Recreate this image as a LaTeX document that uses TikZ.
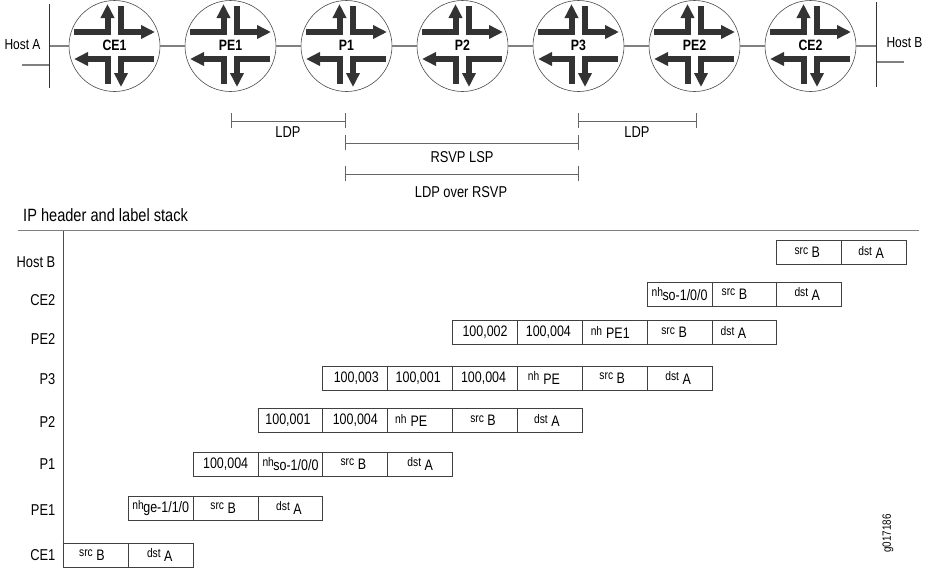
\documentclass[tikz,border=0pt]{standalone}
\usepackage{fontspec}
\setmainfont[FakeStretch=0.82]{Liberation Sans}
\usetikzlibrary{arrows.meta}
\newcommand{\sm}[1]{\raisebox{3.5pt}{\fontsize{12.5}{12}\selectfont #1}}
\newcommand{\srcB}{\sm{src}\hspace{3.5pt}B}
\newcommand{\dstA}{\sm{dst}\hspace{3.5pt}A}
\begin{document}
\begin{tikzpicture}[x=1pt, y=-1pt, font=\fontsize{15.2}{16}\selectfont,
    router/.style = {draw = black!70, circle, line width = .6pt, inner sep = 0pt, outer sep = 0pt, minimum size = 91pt, font = \fontsize{15}{15}\selectfont\bfseries},
    flow/.style = {draw = black!80, line width = 6pt, -{Triangle[length=14pt, width=13pt]}},
    link/.style = {draw = black!50, line width = 1.2pt},
    bus/.style = {draw = black!80, line width = .9pt},
    span/.style = {draw = black!60, line width = 1pt},
    cell/.style = {draw = black!75, line width = 1pt, anchor = north west, inner sep = 0pt, outer sep = 0pt, minimum width = 64.85pt, minimum height = 24.3pt},
    lbl/.style = {font = \fontsize{15.7}{16}\selectfont},
    host/.style = {inner sep = 0pt, font = \fontsize{14.6}{16}\selectfont}]
    \useasboundingbox (0,0) rectangle (926,568);

    \foreach \n/\t [count=\i from 0] in {ce1/CE1, pe1/PE1, p1/P1, p2/P2, p3/P3, pe2/PE2, ce2/CE2}
             {
               \node [router] (\n) at (114.5+116*\i, 46) {\raisebox{1pt}{\t}};
               \begin{scope}[shift={(114.5+116*\i, 46)}]
                 \draw [flow] (-40.5,-14) -- (-7,-14) -- (-7,-42);
                 \draw [flow] (6.5,-40) -- (6.5,-14) -- (40.5,-14);
                 \draw [flow] (-7,38) -- (-7,13) -- (-40.5,13);
                 \draw [flow] (39.5,13) -- (6.5,13) -- (6.5,41);
               \end{scope}
             }
    \draw [link] (ce1) -- (pe1);
    \draw [link] (pe1) -- (p1);
    \draw [link] (p1) -- (p2);
    \draw [link] (p2) -- (p3);
    \draw [link] (p3) -- (pe2);
    \draw [link] (pe2) -- (ce2);

    \node [host] (hosta) at (22.5,45) {Host A};
    \node [host] (hostb) at (904.5,43) {Host B};
    \coordinate (busa) at (49.5,46);
    \coordinate (busb) at (876,46);
    \draw [link] (busa) -- (ce1);
    \draw [link] (ce2) -- (busb);
    \draw [link] (22,65) -- (49.5,65);
    \draw [link] (876,62) -- (904,62);
    \draw [bus] (49.5,4) -- (49.5,88);
    \draw [bus] (876,2) -- (876,87);

    \foreach \a/\b/\h/\t/\u/\v in {231/345.5/121/LDP/288/132, 578/696.5/121/LDP/637/132, 345.5/578/143/RSVP LSP/462/157, 345.5/578/174/LDP over RSVP/461/192}
             {
               \draw [span] (\a,\h) -- (\b,\h);
               \draw [span] (\a,\h-8) -- (\a,\h+7);
               \draw [span] (\b,\h-8) -- (\b,\h+7);
               \node [lbl, inner sep = 0pt] at (\u,\v) {\t};
             }

    \node [anchor = west, inner sep = 0pt, font = \fontsize{17.8}{18}\selectfont] (title) at (23,215.5) {IP header and label stack};
    \draw [link] (18,230.5) -- (919,230.5);
    \draw [draw = black!70, line width = 1pt] (63.5,230.5) -- (63.5,568);

    \foreach \n/\t/\y in {lhostb/Host B/262.5, lce2/CE2/300, lpe2/PE2/339, lp3/P3/379, lp2/P2/422, lp1/P1/464.5, lpe1/PE1/510, lce1/CE1/555.5}
             {
               \node [lbl, anchor = east, inner sep = 0pt] (\n) at (55.5,\y) {\t};
             }

    \foreach \n/\k/\y/\list in {
        rb/11/240.5/{{\srcB}/-4, {\dstA}/-6},
        rc/9/282/{{\sm{nh}\hspace{-.5pt}so-1/0/0}/0, {\srcB}/-20, {\dstA}/-4},
        rp/6/320.5/{{100,002}/0, {100,004}/-3, {\sm{nh}\hspace{4pt}PE1}/-9, {\srcB}/-11, {\dstA}/-22},
        rt/4/366/{{100,003}/2, {100,001}/-4, {100,004}/-3, {\sm{nh}\hspace{4pt}PE}/-12, {\srcB}/-5, {\dstA}/-3},
        ru/3/408.5/{{100,001}/-5, {100,004}/0, {\sm{nh}\hspace{4pt}PE}/-18, {\srcB}/-4, {\dstA}/-6},
        rv/2/452/{{100,004}/0, {\sm{nh}\hspace{-.5pt}so-1/0/0}/0, {\srcB}/-4, {\dstA}/0},
        rw/1/496/{{\sm{nh}\hspace{-.5pt}ge-1/1/0}/0, {\srcB}/-5, {\dstA}/-3},
        rx/0/543/{{\srcB}/-8, {\dstA}/-2}}
             {
               \foreach \t/\d [count=\i from \k] in \list
                        {
                          \node [cell] (\n\i) at (63.5+64.85*\i, \y) {\raisebox{-1.2pt}{\makebox[0pt]{\hspace*{\d pt}\t}}};
                        }
             }

    \node [rotate = 90, inner sep = 0pt, font = \fontsize{12}{12}\selectfont] (fig) at (888,533.5) {g017186};
\end{tikzpicture}
\end{document}
